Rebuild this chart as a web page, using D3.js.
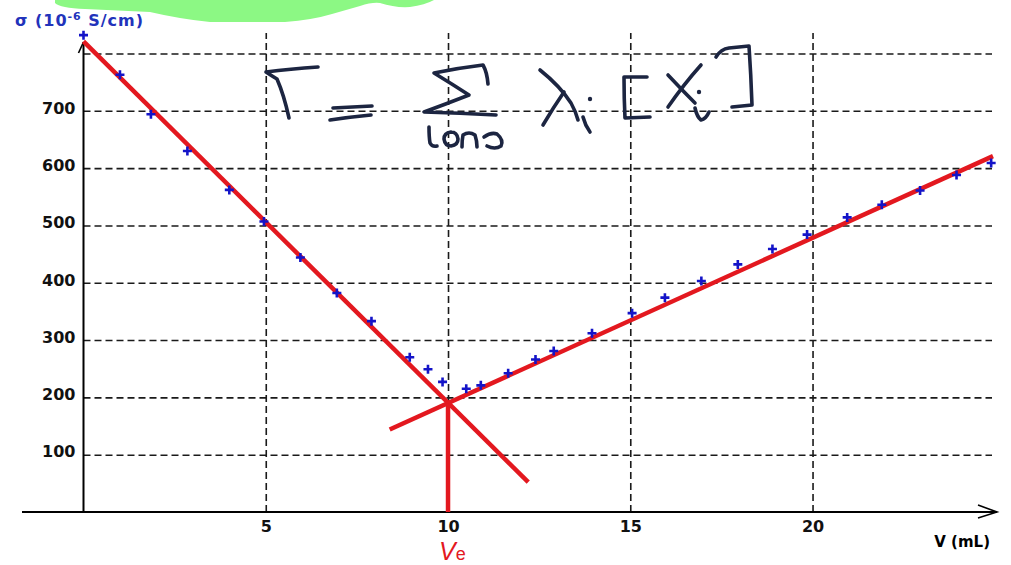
<html>
  <head>
    <title>Conductimetric titration</title>
    <script src="https://cdn.jsdelivr.net/npm/d3@7"></script>
    <style>
     body { margin: 0; background: #fff; }
     .grid line { stroke: #1a1a1a; stroke-width: 1.6px; stroke-dasharray: 7,4; }
     .grid .domain { display: none; }
     .ticks .domain, .ticks line { display: none; }
     .ticks text { font-family: "DejaVu Sans", sans-serif; font-weight: bold; font-size: 16px; fill: #111; }
     .fit { stroke: #e3181f; stroke-width: 4.5px; fill: none; }
     .pt { stroke: #1414c8; stroke-width: 2.6px; }
     .ink { stroke: #1c2541; stroke-width: 3.6px; fill: none; stroke-linecap: round; stroke-linejoin: round; }
    </style>
  </head>
  <body>
    <svg id="chart" width="1011" height="565"></svg>
    <script>
     // measured points, before and after the equivalence
     var vBefore = [0, 1, 1.85, 2.85, 4, 4.95, 5.95, 6.95, 7.9, 8.95, 9.45, 9.85];
     var sBefore = [832, 763, 694, 630, 562, 507, 444, 382, 333, 270, 249, 227];
     var vAfter = [10.5, 10.9, 11.65, 12.4, 12.9, 13.95, 15.05, 15.95, 16.95, 17.95, 18.9, 19.85, 20.95, 21.9, 22.95, 23.95, 24.9];
     var sAfter = [215, 221, 242, 266, 281, 312, 347, 374, 403, 432, 459, 484, 514, 536, 561, 588, 609];

     // hand drawn fit lines
     var fitBeforeV = [0, 12.2], fitBeforeS = [821, 52];
     var fitAfterV = [8.4, 24.95], fitAfterS = [144, 621];
     var ve = 10, sigmaE = 190;

     var xTicks = [5, 10, 15, 20];
     var yTicks = [100, 200, 300, 400, 500, 600, 700, 800];
     var yLabels = [100, 200, 300, 400, 500, 600, 700];

     var svg = d3.select("#chart");

     var x = d3.scaleLinear().domain([0, 25]).range([83.5, 994.8]);
     var y = d3.scaleLinear().domain([0, 800]).range([512, 53.5]);

     // green highlighter blob at the top
     svg.append("path")
        .attr("fill", "#8cf884")
        .attr("d", "M55,0 L55,3 Q60,8 85,9 L150,12 Q180,19 210,22 L285,22 Q312,20 332,14 L360,6 Q372,2 380,3 Q395,8 410,7 Q425,5 434,0 Z");

     // dashed grid
     svg.append("g")
        .attr("class", "grid")
        .attr("transform", "translate(" + x(0) + ",0)")
        .call(d3.axisLeft(y).tickValues(yTicks).tickSize(-(992 - x(0))).tickFormat(""));

     svg.append("g")
        .attr("class", "grid")
        .attr("transform", "translate(0," + y(0) + ")")
        .call(d3.axisBottom(x).tickValues(xTicks).tickSize(-(y(0) - 33)).tickFormat(""));

     // axes
     svg.append("line")
        .attr("x1", 22).attr("x2", 997)
        .attr("y1", y(0)).attr("y2", y(0))
        .attr("stroke", "#000").attr("stroke-width", 2);
     svg.append("path")
        .attr("d", "M978,505 L997," + y(0) + " L978,518")
        .attr("stroke", "#000").attr("stroke-width", 1.6).attr("fill", "none");
     svg.append("line")
        .attr("x1", x(0)).attr("x2", x(0))
        .attr("y1", y(0)).attr("y2", 42)
        .attr("stroke", "#000").attr("stroke-width", 2);
     svg.append("line")
        .attr("x1", x(0)).attr("x2", 78.5)
        .attr("y1", 42).attr("y2", 53)
        .attr("stroke", "#000").attr("stroke-width", 1.6);

     var yAxis = svg.append("g")
        .attr("class", "ticks")
        .attr("transform", "translate(" + x(0) + ",0)")
        .call(d3.axisLeft(y).tickValues(yLabels).tickSize(0).tickPadding(8));
     yAxis.selectAll("text").attr("dy", "0.14em");

     svg.append("g")
        .attr("class", "ticks")
        .attr("transform", "translate(0," + y(0) + ")")
        .call(d3.axisBottom(x).tickValues(xTicks).tickSize(0).tickPadding(9));

     // axis titles
     var yt = svg.append("text")
        .attr("x", 15).attr("y", 26)
        .attr("fill", "#2233bb")
        .style("font-family", "'DejaVu Sans', sans-serif")
        .style("font-weight", "bold")
        .style("font-size", "16px")
        .attr("textLength", 128)
        .attr("lengthAdjust", "spacing");
     yt.append("tspan").text("σ (10");
     yt.append("tspan").attr("dy", -6).style("font-size", "11px").text("-6");
     yt.append("tspan").attr("dy", 6).text(" S/cm)");

     svg.append("text")
        .attr("x", 990).attr("y", 547)
        .attr("text-anchor", "end")
        .style("font-family", "'DejaVu Sans', sans-serif")
        .style("font-weight", "bold")
        .style("font-size", "15px")
        .text("V (mL)");

     // fit lines
     var line = d3.line().x(function(d) { return x(d[0]); }).y(function(d) { return y(d[1]); });

     svg.append("path").attr("class", "fit")
        .attr("d", line(d3.zip(fitBeforeV, fitBeforeS)));
     svg.append("path").attr("class", "fit")
        .attr("d", line(d3.zip(fitAfterV, fitAfterS)));
     svg.append("path").attr("class", "fit")
        .attr("d", line([[ve, sigmaE], [ve, 0]]));

     var ve_label = svg.append("text")
        .attr("x", x(ve) - 9).attr("y", 560)
        .attr("fill", "#e3181f")
        .style("font-family", "'Liberation Sans', Arial, sans-serif");
     ve_label.append("tspan").style("font-style", "italic").style("font-size", "25px").text("V");
     ve_label.append("tspan").style("font-size", "18px").text("e");

     // data crosses
     var pts = d3.zip(vBefore, sBefore).concat(d3.zip(vAfter, sAfter));
     svg.append("g").selectAll("path")
        .data(pts)
        .enter().append("path")
        .attr("class", "pt")
        .attr("d", function(d) {
          var cx = x(d[0]), cy = y(d[1]);
          return "M" + (cx - 4.5) + "," + cy + "H" + (cx + 4.5) + "M" + cx + "," + (cy - 4.5) + "V" + (cy + 4.5);
        });

     // handwritten formula
     var ink = svg.append("g");
     [
       "M318,67 Q290,69 266,72 Q272,76 277,79 Q284,95 289,118",
       "M333,108 L372,106",
       "M330,120 Q350,117 371,115",
       "M488,84 Q487,72 483,65 Q458,68 434,73 Q452,84 469,95 Q446,104 424,112 Q460,113 496,115",
       "M429,127 Q429,137 430,143 Q432,147 437,146",
       "M451,132 Q444,133 444,139 Q445,146 451,146 Q458,145 458,139 Q457,132 451,132",
       "M462,147 Q462,140 463,135 Q469,131 475,135 Q477,141 477,147",
       "M484,137 Q491,132 497,134 Q504,140 501,146 Q495,150 487,146",
       "M540,70 Q560,86 571,103 Q576,112 578,120",
       "M564,92 Q553,108 543,125",
       "M583,117 Q585,125 590,132",
       "M647,77 L624,77 Q624,98 625,118 L650,117",
       "M668,75 Q682,90 695,103",
       "M701,65 Q684,84 668,107",
       "M695,108 Q697,117 701,120 Q706,119 709,112",
       "M716,57 Q721,49 729,48 L749,46 Q751,75 752,105 L732,107"
     ].forEach(function(d) {
       ink.append("path").attr("class", "ink").attr("d", d);
     });
     [[590, 99], [699, 92]].forEach(function(p) {
       ink.append("circle").attr("cx", p[0]).attr("cy", p[1]).attr("r", 2.2).attr("fill", "#1c2541");
     });
    </script>
  </body>
</html>
